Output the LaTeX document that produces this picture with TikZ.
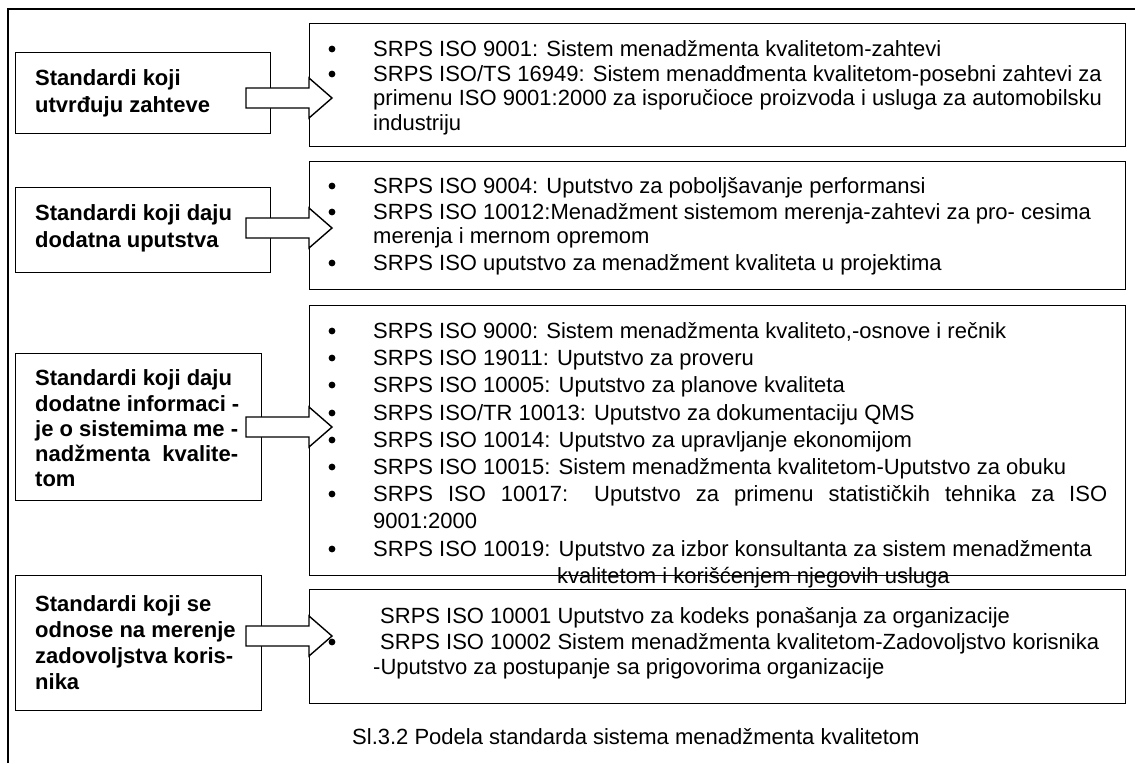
\documentclass[tikz,border=0pt]{standalone}
\usepackage{fontspec}
\setmainfont{Liberation Sans}
\usetikzlibrary{calc}
\tikzset{
  box/.style={draw, line width=1.4pt, fill=white, inner sep=0pt, anchor=north west},
  ltext/.style={anchor=base west, inner sep=0pt, font=\fontsize{22}{26}\selectfont\bfseries},
  rtext/.style={anchor=base west, inner sep=0pt, font=\fontsize{22}{26}\selectfont},
  bul/.style={circle, fill=black, inner sep=0pt, minimum size=6.8pt},
  blockarrow/.style={draw, line width=1.4pt, fill=white, line join=miter},
  frame/.style={line width=1.4pt},
}
\newcommand\tl[5][rtext]{\node[#1] (#2) at (#3,#4+8) {#5};}
\newcommand\bu[2]{\node[bul] (#1) at (332,#2+1) {};}
\newcommand\barrow[3]{%
  \coordinate (#1s) at (246,#3);
  \coordinate (#1h) at (#2.west |- #1s);
  \draw[blockarrow] ($(#1s)+(0,-10)$) -- ($(#1h)+(0,-10)$) -- ($(#1h)+(0,-20)$)
     -- ($(#1h)+(23,0)$) -- ($(#1h)+(0,20)$) -- ($(#1h)+(0,10)$) -- ($(#1s)+(0,10)$) -- cycle;}
\begin{document}
\begin{tikzpicture}[x=1pt,y=-1pt]
\useasboundingbox (0,0) rectangle (1135,763);
\draw[frame] (8,763) -- (8,9) -- (1135,9);
% boxes
\node[box, minimum width=255pt, minimum height=81pt] (L1) at (15,52) {};
\node[box, minimum width=255pt, minimum height=85pt] (L2) at (15,187) {};
\node[box, minimum width=246pt, minimum height=147pt] (L3) at (15,353) {};
\node[box, minimum width=246pt, minimum height=135pt] (L4) at (15,575) {};
\node[box, minimum width=816pt, minimum height=123pt] (R1) at (309,23) {};
\node[box, minimum width=816pt, minimum height=128pt] (R2) at (309,161) {};
\node[box, minimum width=816pt, minimum height=270pt] (R3) at (309,305) {};
\node[box, minimum width=816pt, minimum height=114pt] (R4) at (309,589) {};
% arrows
\barrow{a1}{R1}{98}
\barrow{a2}{R2}{228}
\barrow{a3}{R3}{427}
\barrow{a4}{R4}{636}
% left texts
\tl[ltext]{l1a}{35}{77}{Standardi koji}
\tl[ltext]{l1b}{35}{104}{utvrđuju zahteve}
\tl[ltext]{l2a}{35}{212}{Standardi koji daju}
\tl[ltext]{l2b}{35}{239}{dodatna uputstva}
\tl[ltext]{l3a}{35}{377}{Standardi koji daju}
\tl[ltext]{l3b}{35}{403}{dodatne informaci -}
\tl[ltext]{l3c}{35}{428}{je o sistemima me -}
\tl[ltext]{l3d}{35}{453}{nadžmenta\ \ kvalite-}
\tl[ltext]{l3e}{35}{478}{tom}
\tl[ltext]{l4a}{35}{603}{Standardi koji se}
\tl[ltext]{l4b}{35}{629}{odnose na merenje}
\tl[ltext]{l4c}{35}{655}{zadovoljstva koris-}
\tl[ltext]{l4d}{35}{681}{nika}
% R1
\bu{b1a}{48}\tl{r1a}{373}{48}{SRPS ISO 9001: Sistem menadžmenta kvalitetom-zahtevi}
\bu{b1b}{73}\tl{r1b}{373}{73}{SRPS ISO/TS 16949: Sistem menadđmenta kvalitetom-posebni zahtevi za}
\tl{r1c}{373}{97}{primenu ISO 9001:2000 za isporučioce proizvoda i usluga za automobilsku}
\tl{r1d}{373}{122}{industriju}
% R2
\bu{b2a}{185}\tl{r2a}{373}{185}{SRPS ISO 9004: Uputstvo za poboljšavanje performansi}
\bu{b2b}{211}\tl{r2b}{373}{211}{SRPS ISO 10012:Menadžment sistemom merenja-zahtevi za pro- cesima}
\tl{r2c}{373}{235}{merenja i mernom opremom}
\bu{b2d}{262}\tl{r2d}{373}{262}{SRPS ISO uputstvo za menadžment kvaliteta u projektima}
% R3
\bu{b3a}{330}\tl{r3a}{373}{330}{SRPS ISO 9000: Sistem menadžmenta kvaliteto,-osnove i rečnik}
\bu{b3b}{357}\tl{r3b}{373}{357}{SRPS ISO 19011: Uputstvo za proveru}
\bu{b3c}{384}\tl{r3c}{373}{384}{SRPS ISO 10005: Uputstvo za planove kvaliteta}
\bu{b3d}{412}\tl{r3d}{373}{412}{SRPS ISO/TR 10013: Uputstvo za dokumentaciju QMS}
\bu{b3e}{439}\tl{r3e}{373}{439}{SRPS ISO 10014: Uputstvo za upravljanje ekonomijom}
\bu{b3f}{466}\tl{r3f}{373}{466}{SRPS ISO 10015: Sistem menadžmenta kvalitetom-Uputstvo za obuku}
\bu{b3g}{493}\tl{r3g}{373}{493}{\makebox[734pt][s]{SRPS ISO 10017: Uputstvo za primenu statističkih tehnika za ISO}}
\tl{r3h}{373}{520}{9001:2000}
\bu{b3i}{548}\tl{r3i}{373}{548}{SRPS ISO 10019: Uputstvo za izbor konsultanta za sistem menadžmenta}
\tl{r3j}{557}{575}{kvalitetom i korišćenjem njegovih usluga}
% R4
\tl{r4a}{380}{615}{SRPS ISO 10001 Uputstvo za kodeks ponašanja za organizacije}
\bu{b4b}{641}\tl{r4b}{380}{641}{SRPS ISO 10002 Sistem menadžmenta kvalitetom-Zadovoljstvo korisnika}
\tl{r4c}{373}{666}{-Uputstvo za postupanje sa prigovorima organizacije}
% caption
\tl{cap}{352}{736}{Sl.3.2 Podela standarda sistema menadžmenta kvalitetom}
\end{tikzpicture}
\end{document}
